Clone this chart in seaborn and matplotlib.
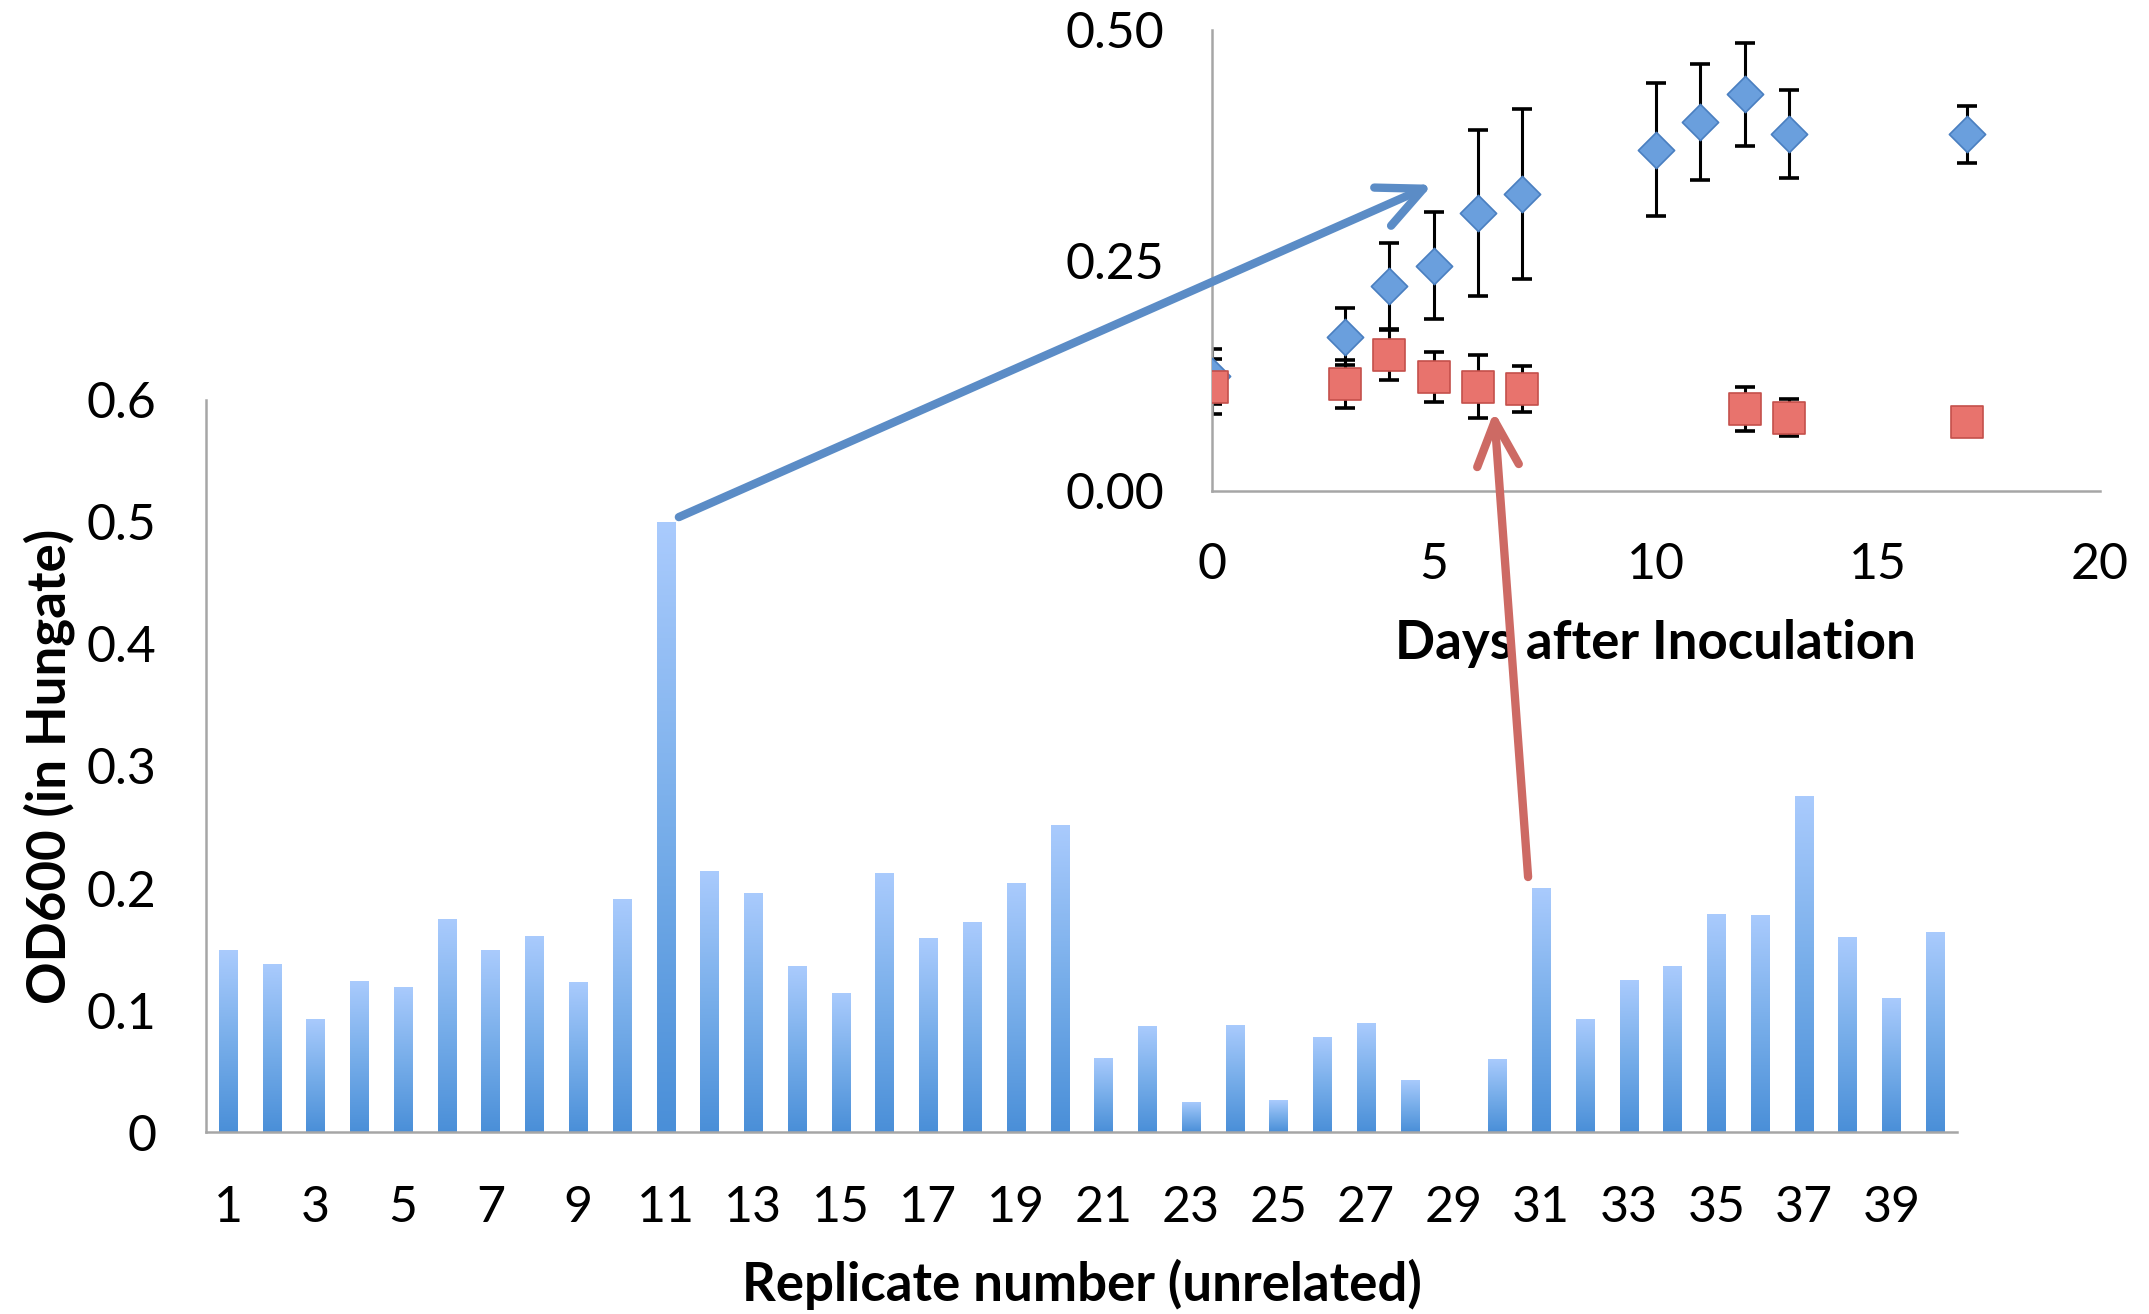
import numpy as np
import matplotlib
matplotlib.use("Agg")
import matplotlib.pyplot as plt
from matplotlib.colors import LinearSegmentedColormap
from matplotlib.patches import ConnectionPatch
import seaborn as sns
import pandas as pd

# main bar chart: OD600 of 40 unrelated replicates
replicates = [str(i) for i in range(1, 41)]
od600 = [0.149, 0.138, 0.093, 0.124, 0.119, 0.175, 0.149, 0.161, 0.123, 0.191,
         0.500, 0.214, 0.196, 0.136, 0.114, 0.212, 0.159, 0.172, 0.204, 0.252,
         0.061, 0.087, 0.025, 0.088, 0.026, 0.078, 0.089, 0.043, 0.000, 0.060,
         0.200, 0.093, 0.125, 0.136, 0.179, 0.178, 0.275, 0.160, 0.110, 0.164]

# inset: growth over time
days_blue = [0, 3, 4, 5, 6, 7, 10, 11, 12, 13, 17]
od_blue = [0.124, 0.167, 0.222, 0.244, 0.301, 0.322, 0.370, 0.400, 0.430, 0.387, 0.387]
err_blue = [0.030, 0.031, 0.047, 0.058, 0.090, 0.092, 0.072, 0.063, 0.056, 0.048, 0.031]

days_red = [0, 3, 4, 5, 6, 7, 12, 13, 17]
od_red = [0.113, 0.116, 0.147, 0.123, 0.113, 0.110, 0.089, 0.079, 0.075]
err_red = [0.030, 0.026, 0.027, 0.027, 0.034, 0.025, 0.024, 0.020, 0.008]

sns.set_theme(style="white")
plt.rcParams['font.family'] = ['Lato', 'DejaVu Sans']
plt.rcParams['text.color'] = 'black'
plt.rcParams['axes.labelcolor'] = 'black'
plt.rcParams['xtick.labelcolor'] = 'black'
plt.rcParams['ytick.labelcolor'] = 'black'

spine_col = '#a6a6a6'
tick_fs = 36
label_fs = 38
fig = plt.figure(figsize=(21.49, 13.14), dpi=100)
ax = fig.add_axes([0.0959, 0.1385, 0.8148, 0.5571])

df = pd.DataFrame({"rep": replicates, "od": od600})
sns.barplot(data=df, x="rep", y="od", ax=ax, width=0.42, color='#7fb0ec',
            saturation=1, edgecolor='none')

# vertical gradient inside each bar (light top, darker bottom)
grad_cmap = LinearSegmentedColormap.from_list('bar', ['#4a8fd8', '#78aeea', '#aacbfd'])
grad = np.linspace(0, 1, 256).reshape(-1, 1)
for p in ax.patches:
    x0, y0 = p.get_x(), p.get_y()
    w, h = p.get_width(), p.get_height()
    if h <= 0:
        continue
    im = ax.imshow(grad, extent=[x0, x0 + w, y0, y0 + h], origin='lower',
                   aspect='auto', cmap=grad_cmap, zorder=p.get_zorder() + 0.1)
    im.set_clip_path(p)

ax.set_xlim(-0.5, 39.5)
ax.set_ylim(0, 0.6)
ax.set_yticks([0, 0.1, 0.2, 0.3, 0.4, 0.5, 0.6])
ax.set_yticklabels(['0', '0.1', '0.2', '0.3', '0.4', '0.5', '0.6'])
ax.set_xticks(range(0, 40, 2))
ax.set_xticklabels(replicates[::2])
ax.set_xticks(np.arange(-0.5, 40, 1), minor=True)
ax.tick_params(axis='x', which='major', length=0, pad=38, labelsize=tick_fs)
ax.tick_params(axis='x', which='minor', length=13, width=1.8, color=spine_col, direction='out')
ax.tick_params(axis='y', which='major', length=13, width=1.8, color=spine_col,
               direction='out', pad=23, labelsize=tick_fs)
for s in ['top', 'right']:
    ax.spines[s].set_visible(False)
for s in ['left', 'bottom']:
    ax.spines[s].set_color(spine_col)
    ax.spines[s].set_linewidth(1.8)
ax.set_xlabel("Replicate number (unrelated)", fontsize=label_fs, fontweight='bold', labelpad=20)
ax.set_ylabel("OD600 (in Hungate)", fontsize=label_fs, fontweight='bold', labelpad=8)

# inset time course
ins = fig.add_axes([0.5638, 0.6266, 0.4133, 0.3506])
ins.set_facecolor('none')
ins.errorbar(days_blue, od_blue, yerr=err_blue, fmt='none', ecolor='black',
             elinewidth=2.2, capsize=7, capthick=2.6, zorder=2)
ins.errorbar(days_red, od_red, yerr=err_red, fmt='none', ecolor='black',
             elinewidth=2.2, capsize=7, capthick=2.6, zorder=2)
sns.scatterplot(x=days_blue, y=od_blue, ax=ins, marker='D', s=340,
                color='#6a9fdd', edgecolor='#4a7fc0', linewidth=1.2, zorder=3)
sns.scatterplot(x=days_red, y=od_red, ax=ins, marker='s', s=540,
                color='#e8736d', edgecolor='#c4504b', linewidth=1.2, zorder=4)
ins.set_xlim(0, 20)
ins.set_ylim(0, 0.5)
ins.set_xticks([0, 5, 10, 15, 20])
ins.set_yticks([0, 0.25, 0.5])
ins.set_yticklabels(['0.00', '0.25', '0.50'])
ins.tick_params(axis='both', length=13, width=1.8, color=spine_col, direction='out', labelsize=tick_fs)
ins.tick_params(axis='x', pad=24)
ins.tick_params(axis='y', pad=21)
for s in ['top', 'right']:
    ins.spines[s].set_visible(False)
for s in ['left', 'bottom']:
    ins.spines[s].set_color(spine_col)
    ins.spines[s].set_linewidth(1.8)
ins.set_xlabel("Days after Inoculation", fontsize=label_fs, fontweight='bold', labelpad=22)

# arrows linking the bar chart to the inset
arrow_style = '->,head_length=3.2,head_width=1.5'
arr_blue = ConnectionPatch(xyA=(10.3, 0.504), coordsA=ax.transData,
                           xyB=(4.97, 0.332), coordsB=ins.transData,
                           arrowstyle=arrow_style, mutation_scale=10, lw=6,
                           color='#5b8cc6', capstyle='round', joinstyle='round', zorder=10)
arr_red = ConnectionPatch(xyA=(29.7, 0.209), coordsA=ax.transData,
                          xyB=(6.36, 0.086), coordsB=ins.transData,
                          arrowstyle=arrow_style, mutation_scale=10, lw=6,
                          color='#cd6a64', capstyle='round', joinstyle='round', zorder=10)
fig.add_artist(arr_blue)
fig.add_artist(arr_red)

fig.savefig("out.png", dpi=100)
